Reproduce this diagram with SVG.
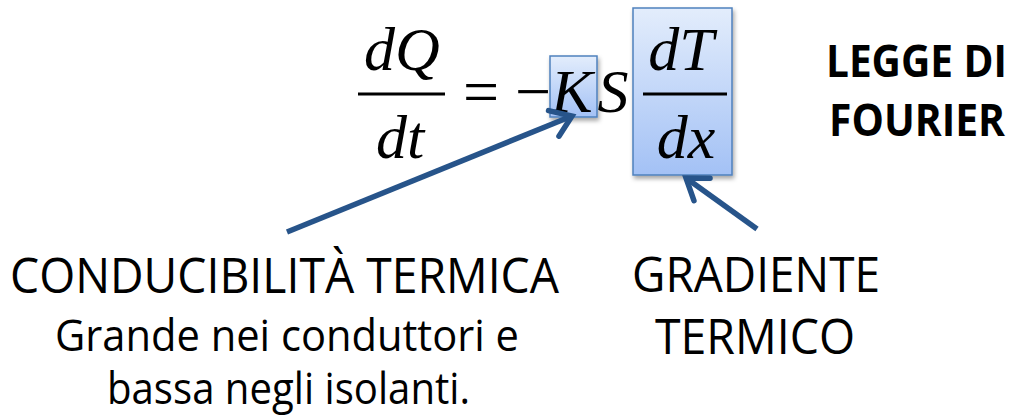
<svg xmlns="http://www.w3.org/2000/svg" width="1024" height="415" viewBox="0 0 1024 415">
<style>
.m{font-family:"Liberation Serif","Times New Roman",serif;font-style:italic;font-size:62px;fill:#000;text-anchor:middle}
.op{font-family:"Liberation Serif","Times New Roman",serif;font-size:64px;fill:#000;text-anchor:middle}
.lbl{font-family:"Open Sans","Noto Sans","Liberation Sans",sans-serif;fill:#000}
.ttl{font-family:"Open Sans","Noto Sans","Liberation Sans",sans-serif;font-weight:bold;font-size:44px;fill:#000}
.bar{stroke:#000;stroke-width:3}
.hl{fill:url(#bg);stroke:#4f81bd;stroke-width:1.5;filter:url(#sh)}
.arr{stroke:#27548a;stroke-width:5.5;fill:none;marker-end:url(#head)}
</style>
<defs>
<linearGradient id="bg" x1="0" y1="0" x2="0" y2="1">
<stop offset="0" stop-color="#e3edfc"/>
<stop offset="1" stop-color="#a3c1f5"/>
</linearGradient>
<filter id="sh" x="-20%" y="-20%" width="140%" height="140%">
<feDropShadow dx="1.5" dy="3" stdDeviation="2" flood-color="#000" flood-opacity="0.35"/>
</filter>
<marker id="head" markerUnits="userSpaceOnUse" viewBox="-30 -20 40 40" refX="0" refY="0" markerWidth="40" markerHeight="40" orient="auto">
<path d="M-19.7,-13.8 L0,0 L-19.7,13.8" fill="none" stroke="#27548a" stroke-width="5.5" stroke-linecap="round" stroke-linejoin="miter"/>
</marker>
</defs>
<rect width="1024" height="415" fill="#fff"/>
<g id="highlight-K"><rect class="hl" x="550" y="56" width="47" height="61"/></g>
<g id="highlight-dTdx"><rect class="hl" x="633" y="8" width="99" height="167"/></g>
<g id="equation">
<text class="m" x="402" y="70">dQ</text>
<line class="bar" x1="358" y1="94" x2="445" y2="94"/>
<text class="m" x="400" y="158">dt</text>
<text class="op" x="481" y="113">=</text>
<text class="op" x="533" y="113">−</text>
<text class="m" x="572" y="112">K</text>
<text class="m" x="613" y="112">S</text>
<text class="m" x="681" y="70">dT</text>
<line class="bar" x1="643" y1="94" x2="727" y2="94"/>
<text class="m" x="686" y="158">dx</text>
</g>
<g id="title">
<text class="ttl" x="826" y="77" textLength="181" lengthAdjust="spacingAndGlyphs">LEGGE DI</text>
<text class="ttl" x="829" y="136" textLength="176" lengthAdjust="spacingAndGlyphs">FOURIER</text>
</g>
<g id="label-conducibilita">
<text class="lbl" x="10" y="293" font-size="49" textLength="549" lengthAdjust="spacingAndGlyphs">CONDUCIBILITÀ TERMICA</text>
<text class="lbl" x="55" y="351" font-size="44" textLength="464" lengthAdjust="spacingAndGlyphs">Grande nei conduttori e</text>
<text class="lbl" x="107" y="404" font-size="44" textLength="363" lengthAdjust="spacingAndGlyphs">bassa negli isolanti.</text>
</g>
<g id="label-gradiente">
<text class="lbl" x="632" y="292" font-size="49" textLength="248" lengthAdjust="spacingAndGlyphs">GRADIENTE</text>
<text class="lbl" x="655" y="354" font-size="49" textLength="200" lengthAdjust="spacingAndGlyphs">TERMICO</text>
</g>
<g id="connectors">
<line class="arr" x1="287" y1="232" x2="572" y2="116"/>
<line class="arr" x1="757" y1="229" x2="686" y2="178"/>
</g>
</svg>
